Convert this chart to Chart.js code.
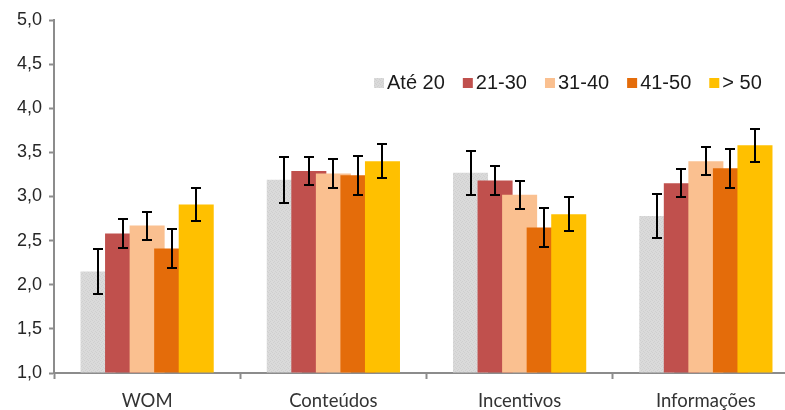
<!DOCTYPE html>
<html>
<head>
<meta charset="utf-8">
<script src="https://cdn.jsdelivr.net/npm/chart.js@4.4.0/dist/chart.umd.min.js"></script>
<style>
  body { margin: 0; overflow: hidden; background: #fff; }
  canvas { display: block; }
</style>
</head>
<body>
<canvas id="chart" width="800" height="410"></canvas>
<script>
// categories and series
const categories = ["WOM", "Conteúdos", "Incentivos", "Informações"];
const seriesNames = ["Até 20", "21-30", "31-40", "41-50", "> 50"];

const ate20 = [2.15, 3.19, 3.27, 2.78];
const de21a30 = [2.58, 3.29, 3.18, 3.15];
const de31a40 = [2.67, 3.26, 3.02, 3.40];
const de41a50 = [2.41, 3.24, 2.65, 3.32];
const mais50 = [2.91, 3.40, 2.80, 3.58];

// error bar half-heights
const errAte20 = [0.26, 0.26, 0.25, 0.25];
const err21a30 = [0.16, 0.16, 0.16, 0.16];
const err31a40 = [0.16, 0.16, 0.16, 0.16];
const err41a50 = [0.22, 0.22, 0.22, 0.22];
const errMais50 = [0.19, 0.19, 0.19, 0.19];

const yTicks = [1.0, 1.5, 2.0, 2.5, 3.0, 3.5, 4.0, 4.5, 5.0];

const seriesData = [ate20, de21a30, de31a40, de41a50, mais50];
const seriesErr = [errAte20, err21a30, err31a40, err41a50, errMais50];

// the light gray series has a fine dotted fill
function dotted() {
  const c = document.createElement("canvas");
  c.width = 4;
  c.height = 4;
  const g = c.getContext("2d");
  g.fillStyle = "#dadada";
  g.fillRect(0, 0, 4, 4);
  g.fillStyle = "#cfcfcf";
  g.fillRect(0, 0, 1, 1);
  g.fillRect(2, 1, 1, 1);
  g.fillRect(1, 2, 1, 1);
  g.fillRect(3, 3, 1, 1);
  return g.createPattern(c, "repeat");
}
const colors = [dotted(), "#c0504d", "#fac090", "#e46c0a", "#ffc000"];

const datasets = seriesNames.map((name, i) => ({
  label: name,
  data: seriesData[i],
  base: yTicks[0],
  backgroundColor: colors[i],
  borderWidth: 0,
  categoryPercentage: 0.659,
  barPercentage: 1.427,
}));

// bars overlap, so later series are drawn on top; then the error bars
const barsAndErrors = {
  id: "barsAndErrors",
  beforeDatasetsDraw(chart) {
    const ctx = chart.ctx;
    const area = chart.chartArea;
    const metas = chart.getSortedVisibleDatasetMetas();
    ctx.save();
    ctx.beginPath();
    ctx.rect(area.left, area.top - 5, area.right - area.left, area.bottom - area.top + 5);
    ctx.clip();
    metas.forEach((meta) => meta.controller.draw());
    ctx.restore();

    const y = chart.scales.y;
    ctx.save();
    ctx.strokeStyle = "#000";
    ctx.lineWidth = 2;
    metas.forEach((meta) => {
      const errs = seriesErr[meta.index];
      const vals = seriesData[meta.index];
      meta.data.forEach((bar, i) => {
        const top = Math.round(y.getPixelForValue(vals[i] + errs[i]));
        const bot = Math.round(y.getPixelForValue(vals[i] - errs[i]));
        const x = Math.round(bar.x);
        ctx.beginPath();
        ctx.moveTo(x, top);
        ctx.lineTo(x, bot);
        ctx.moveTo(x - 5, top);
        ctx.lineTo(x + 5, top);
        ctx.moveTo(x - 5, bot);
        ctx.lineTo(x + 5, bot);
        ctx.stroke();
      });
    });
    ctx.restore();
    return false;
  },
};

// legend sits inside the plot area, top right
const insideLegend = {
  id: "insideLegend",
  afterDraw(chart) {
    const ctx = chart.ctx;
    ctx.save();
    ctx.font = "20px 'Liberation Sans', Arial, sans-serif";
    ctx.textBaseline = "middle";
    let x = 374;
    const yc = 83;
    seriesNames.forEach((name, i) => {
      ctx.fillStyle = colors[i];
      ctx.fillRect(x, yc - 5, 10, 10);
      x += 13;
      ctx.fillStyle = "#1a1a1a";
      ctx.fillText(name, x, yc);
      x += ctx.measureText(name).width + 18;
    });
    ctx.restore();
  },
};

new Chart(document.getElementById("chart"), {
  type: "bar",
  data: { labels: categories, datasets: datasets },
  plugins: [barsAndErrors, insideLegend],
  options: {
    responsive: false,
    animation: false,
    layout: { padding: { top: 20, right: 1, left: 0, bottom: 0 } },
    plugins: { legend: { display: false }, tooltip: { enabled: false } },
    scales: {
      x: {
        afterFit: (s) => { s.height = 37; },
        grid: { offset: true, drawOnChartArea: false, tickLength: 6, color: "#8c8c8c", tickWidth: 2 },
        border: { color: "#8c8c8c", width: 2 },
        ticks: {
          padding: 11,
          color: "#333333",
          font: { family: "Lato", size: 18.5 },
        },
      },
      y: {
        min: 1,
        max: 5,
        afterFit: (s) => { s.width = 54; },
        afterBuildTicks: (s) => { s.ticks = yTicks.map((v) => ({ value: v })); },
        grid: { drawOnChartArea: false, tickLength: 5, color: "#8c8c8c", tickWidth: 2 },
        border: { color: "#8c8c8c", width: 2 },
        ticks: {
          padding: 7,
          color: "#262626",
          font: { family: "'Liberation Sans'", size: 18 },
          callback: (v) => v.toFixed(1).replace(".", ","),
        },
      },
    },
  },
});
</script>
</body>
</html>
